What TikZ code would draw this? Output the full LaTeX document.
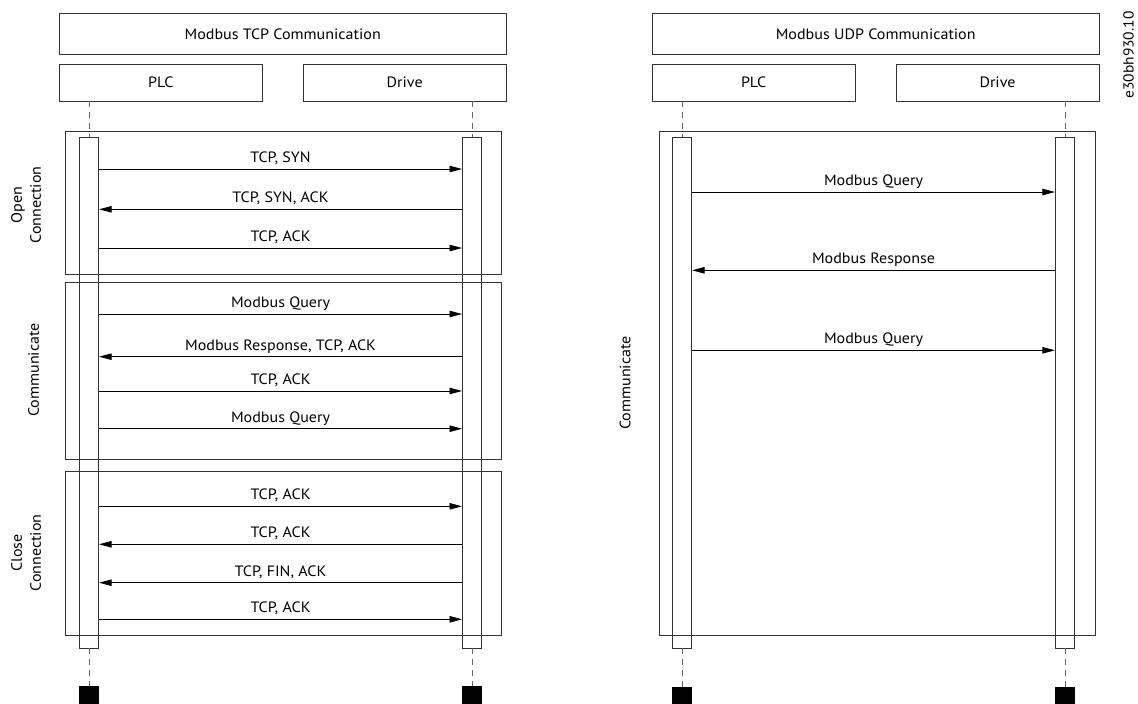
\documentclass[tikz,border=0pt]{standalone}
\usepackage{fontspec}
\setmainfont{PT Sans}[FakeStretch=1.07]
\usetikzlibrary{arrows.meta}
\begin{document}
\begin{tikzpicture}[x=1pt,y=-1pt,
  font=\fontsize{15}{19}\selectfont,
  hdr/.style={draw=black!80, line width=0.8pt, inner sep=0pt, minimum height=37pt},
  ttl/.style={hdr, minimum height=41pt, minimum width=446.7pt},
  actor/.style={hdr, minimum width=203pt},
  bar/.style={draw=black!80, line width=0.8pt, inner sep=0pt, minimum width=19.4pt, minimum height=511pt},
  frame/.style={draw=black!80, line width=0.8pt},
  life/.style={draw=black!60, line width=0.8pt, dash pattern=on 6pt off 5pt},
  msg/.style={draw=black, line width=0.8pt, -{Triangle[length=12.5pt,width=6.5pt]}},
  lbl/.style={anchor=base, inner sep=0pt},
  side/.style={rotate=90, align=center, inner sep=0pt},
  stopbox/.style={fill=black, inner sep=0pt, minimum width=19.4pt, minimum height=20pt}
]
\useasboundingbox (0,0) rectangle (1138,704);

% ---------- TCP side ----------
\node[ttl] (tcptitle) at (282.7,33.8) {Modbus TCP Communication};
\node[actor] (tplc) at (160.8,82.5) {PLC};
\node[actor] (tdrv) at (404.7,82.5) {Drive};
\node[bar] (tpbar) at (89,392.5) {};
\node[bar] (tdbar) at (472.1,392.5) {};
\node[stopbox, anchor=north] (tpend) at (89,686) {};
\node[stopbox, anchor=north] (tdend) at (472.1,686) {};
\draw[life] (tplc.south -| tpbar) -- (tpbar.north);
\draw[life] (tdrv.south -| tdbar) -- (tdbar.north);
\draw[life] (tpbar.south) -- (tpend.north);
\draw[life] (tdbar.south) -- (tdend.north);

\draw[frame] (65.5,131) rectangle (501.7,274);
\draw[frame] (65.5,282.7) rectangle (501.7,459);
\draw[frame] (65.5,471.5) rectangle (501.7,635);

\node[side] (lopen) at (26,205) {Open\\Connection};
\node[side] (lcomm) at (33.5,370) {Communicate};
\node[side] (lclose) at (26,553) {Close\\Connection};

% messages: PLC -> Drive
\foreach \y/\t in {169/{TCP, SYN}, 248/{TCP, ACK}, 314/{Modbus Query}, 391/{TCP, ACK},
                   428.7/{Modbus Query}, 506.3/{TCP, ACK}, 619.3/{TCP, ACK}}{
  \draw[msg] (tpbar.east |- 0,\y) -- (tdbar.west |- 0,\y)
    node[lbl, midway, yshift=6.5pt] {\t};
}
% messages: Drive -> PLC
\foreach \y/\t in {209.3/{TCP, SYN, ACK}, 356.7/{Modbus Response, TCP, ACK},
                   544.3/{TCP, ACK}, 582.7/{TCP, FIN, ACK}}{
  \draw[msg] (tdbar.west |- 0,\y) -- (tpbar.east |- 0,\y)
    node[lbl, midway, yshift=6.5pt] {\t};
}

% ---------- UDP side ----------
\node[ttl] (udptitle) at (875.7,33.8) {Modbus UDP Communication};
\node[actor] (uplc) at (753.7,82.5) {PLC};
\node[actor] (udrv) at (997.5,82.5) {Drive};
\node[bar] (upbar) at (682,392.5) {};
\node[bar] (udbar) at (1065,392.5) {};
\node[stopbox, anchor=north] (upend) at (682,687) {};
\node[stopbox, anchor=north] (udend) at (1065,687) {};
\draw[life] (uplc.south -| upbar) -- (upbar.north);
\draw[life] (udrv.south -| udbar) -- (udbar.north);
\draw[life] (upbar.south) -- (upend.north);
\draw[life] (udbar.south) -- (udend.north);

\draw[frame] (659,131) rectangle (1095,635);
\node[side] (rcomm) at (625,383) {Communicate};

\draw[msg] (upbar.east |- 0,192) -- (udbar.west |- 0,192)
  node[lbl, midway, yshift=6.5pt] {Modbus Query};
\draw[msg] (udbar.west |- 0,270.3) -- (upbar.east |- 0,270.3)
  node[lbl, midway, yshift=6.5pt] {Modbus Response};
\draw[msg] (upbar.east |- 0,350.3) -- (udbar.west |- 0,350.3)
  node[lbl, midway, yshift=6.5pt] {Modbus Query};

% drawing number
\node[rotate=90, inner sep=0pt, font=\fontsize{14.5}{17}\selectfont] (docid) at (1128.5,55) {e30bh930.10};
\end{tikzpicture}
\end{document}
